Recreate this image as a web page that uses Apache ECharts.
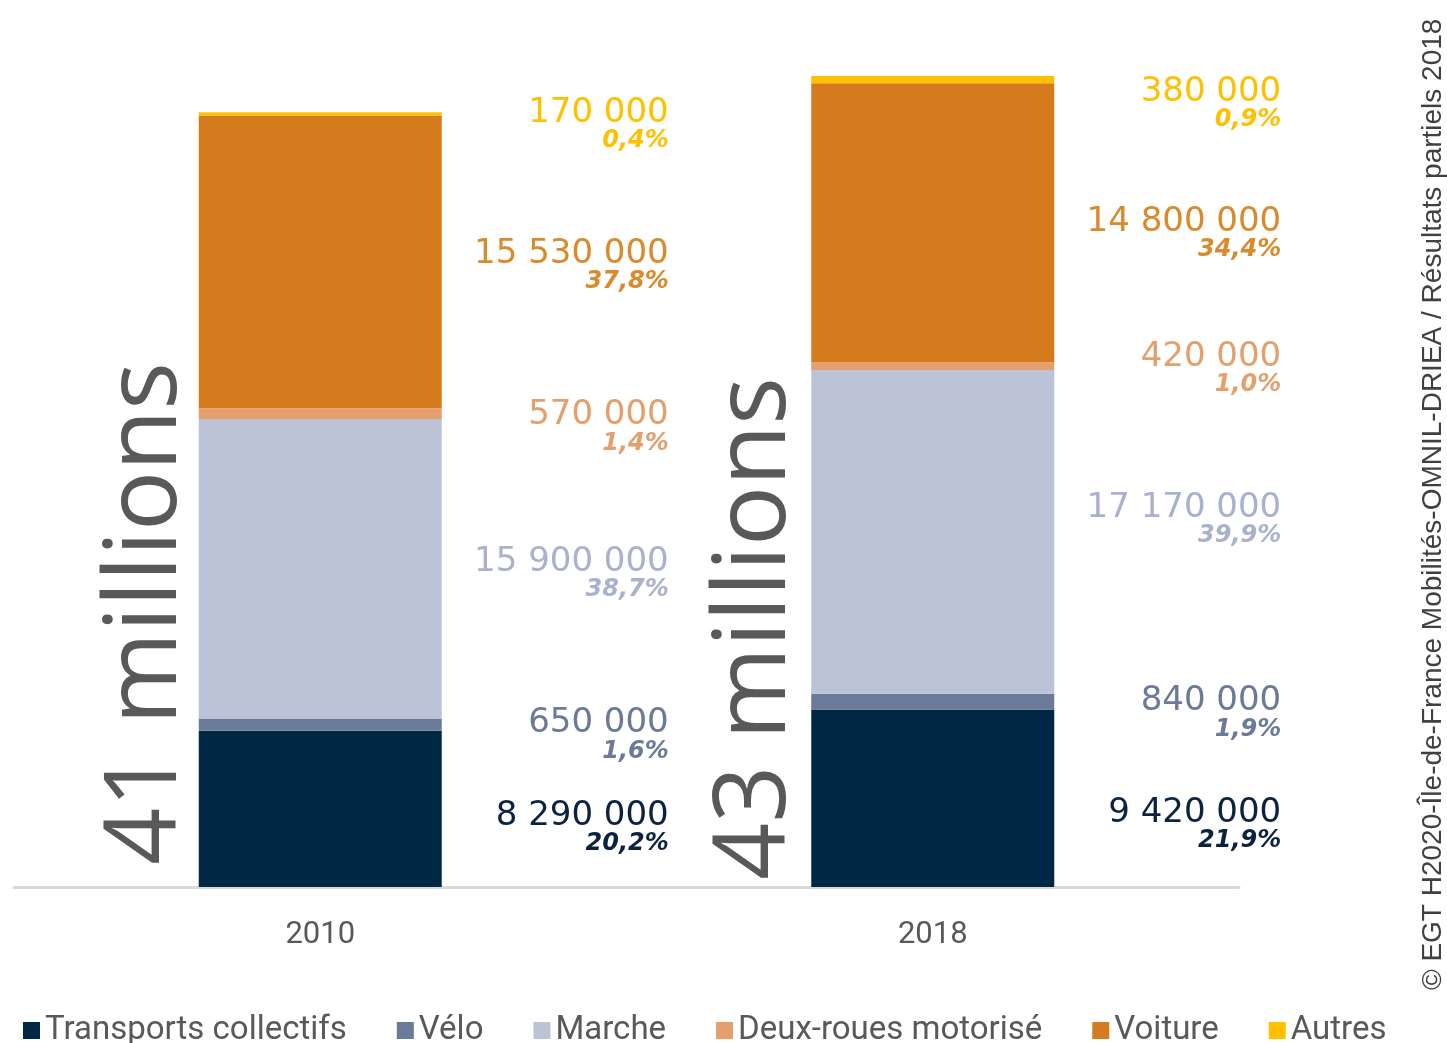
<!DOCTYPE html>
<html>
<head>
<meta charset="utf-8">
<script src="https://cdn.jsdelivr.net/npm/echarts@6/dist/echarts.min.js"></script>
<style>
  html, body { margin: 0; padding: 0; background: #fff; }
  #main { width: 1447px; height: 1043px; }
</style>
</head>
<body>
<div id="main"></div>
<script>
// données : déplacements quotidiens par mode (EGT 2010 / 2018)
const categories = ['2010', '2018'];
const modes = ['Transports collectifs', 'Vélo', 'Marche', 'Deux-roues motorisé', 'Voiture', 'Autres'];

const transportsCollectifs = [8290000, 9420000];
const velo = [650000, 840000];
const marche = [15900000, 17170000];
const deuxRoues = [570000, 420000];
const voiture = [15530000, 14800000];
const autres = [170000, 380000];

// parts modales telles qu'affichées
const pctTransportsCollectifs = [20.2, 21.9];
const pctVelo = [1.6, 1.9];
const pctMarche = [38.7, 39.9];
const pctDeuxRoues = [1.4, 1.0];
const pctVoiture = [37.8, 34.4];
const pctAutres = [0.4, 0.9];

const values = [transportsCollectifs, velo, marche, deuxRoues, voiture, autres];
const pcts = [pctTransportsCollectifs, pctVelo, pctMarche, pctDeuxRoues, pctVoiture, pctAutres];

const barColors = ['#002845', '#6b7a99', '#bcc3d6', '#e3a06d', '#d47b1e', '#ffc000'];
const labelColors = ['#0d2240', '#6b7a99', '#a9b2cc', '#e3a06d', '#d98a2d', '#ffc000'];
// décalage vertical des étiquettes (placées à la main dans l'original)
const labelNudge = [[20, 28], [12, 13], [6, -11], [15, 4], [5, 12], [12, 25]];

function fmtNombre(n) {
  return String(n).replace(/\B(?=(\d{3})+(?!\d))/g, ' ');
}
function fmtPct(p) {
  return p.toFixed(1).replace('.', ',') + '%';
}

const chart = echarts.init(document.getElementById('main'), null, { renderer: 'canvas' });

const series = modes.map(function (name, i) {
  return {
    name: name,
    type: 'bar',
    stack: 'total',
    barWidth: 243,
    data: values[i].map(function (v, j) {
      return { value: v, label: { offset: [0, labelNudge[i][j]] } };
    }),
    itemStyle: { color: barColors[i] },
    emphasis: { disabled: true },
    label: {
      show: true,
      position: [470, '50%'],
      align: 'right',
      verticalAlign: 'middle',
      formatter: function (p) {
        return '{v|' + fmtNombre(p.value) + '}\n{p|' + fmtPct(pcts[i][p.dataIndex]) + '}';
      },
      rich: {
        v: {
          fontFamily: 'DejaVu Sans',
          fontSize: 34,
          lineHeight: 30,
          color: labelColors[i],
          align: 'right'
        },
        p: {
          fontFamily: 'DejaVu Sans',
          fontSize: 24,
          fontStyle: 'italic',
          fontWeight: 'bold',
          lineHeight: 26,
          color: labelColors[i],
          align: 'right'
        }
      }
    }
  };
});

chart.setOption({
  animation: false,
  backgroundColor: '#ffffff',
  grid: { left: 14, right: 208, top: 39, bottom: 156 },
  legend: {
    data: modes,
    left: 18,
    top: 1009,
    icon: 'rect',
    itemWidth: 17,
    itemHeight: 17,
    itemGap: 50,
    textStyle: { fontFamily: 'Roboto', fontSize: 33, color: '#595959' }
  },
  xAxis: {
    type: 'category',
    data: categories,
    axisLine: { lineStyle: { color: '#d9d9d9', width: 3 } },
    axisTick: { show: false },
    axisLabel: { fontFamily: 'Roboto', fontSize: 31, color: '#595959', margin: 33 }
  },
  yAxis: {
    type: 'value',
    min: 0,
    max: 45000000,
    show: false,
    splitLine: { show: false }
  },
  series: series
});

// totaux en millions, écrits à la verticale à gauche de chaque barre
const totals = categories.map(function (c, j) {
  return values.reduce(function (s, arr) { return s + arr[j]; }, 0);
});
const startOffsets = [22, 7];
const gapOffsets = [51, 55];
const graphics = categories.map(function (c, j) {
  const cx = chart.convertToPixel({ xAxisIndex: 0 }, c);
  const base = chart.convertToPixel({ yAxisIndex: 0 }, 0);
  return {
    type: 'text',
    x: cx - 121.5 - gapOffsets[j],
    y: base - startOffsets[j],
    rotation: Math.PI / 2,
    style: {
      text: Math.round(totals[j] / 1e6) + ' millions',
      font: '100px "Open Sans"',
      fill: '#595959',
      align: 'left',
      verticalAlign: 'middle'
    }
  };
});
graphics.push({
  type: 'text',
  x: 1433,
  y: 990,
  rotation: Math.PI / 2,
  style: {
    text: '© EGT H2020-Île-de-France Mobilités-OMNIL-DRIEA / Résultats partiels 2018',
    font: '28px "Liberation Sans"',
    fill: '#404040',
    align: 'left',
    verticalAlign: 'middle'
  }
});
chart.setOption({ graphic: graphics });
</script>
</body>
</html>
